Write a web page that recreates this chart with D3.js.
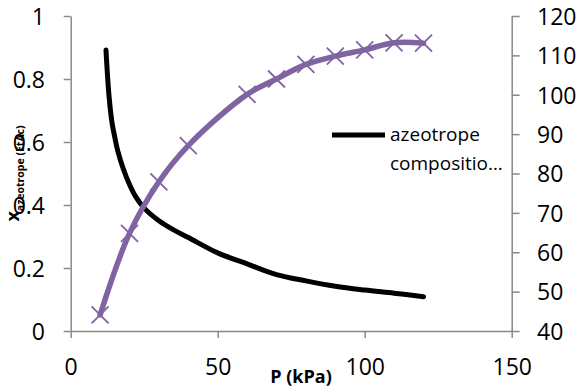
<!DOCTYPE html>
<html>
<head>
<meta charset="utf-8">
<script src="https://cdn.jsdelivr.net/npm/d3@7"></script>
<style>
  html, body { margin: 0; padding: 0; background: #fff; }
  svg { display: block; font-family: "Open Sans", sans-serif; }
</style>
</head>
<body>
<svg id="chart" width="578" height="391"></svg>
<script>
// ---- data ----
const compP = [12, 13, 14, 15, 16, 18, 20, 22, 25, 30, 35, 40, 50, 60, 70, 80, 90, 100, 110, 120];
const compX = [0.892, 0.75, 0.665, 0.615, 0.572, 0.512, 0.465, 0.428, 0.39, 0.35, 0.321, 0.297, 0.248, 0.213, 0.179, 0.159, 0.142, 0.13, 0.12, 0.109];
const tempP = [10, 20, 30, 40, 60, 70, 80, 90, 100, 110, 120];
const tempT = [44.1, 64.8, 77.9, 87.1, 100.1, 104.0, 107.7, 109.8, 111.4, 113.2, 113.1];
const xTicks = [0, 50, 100, 150];
const yLeftTicks = [0, 0.2, 0.4, 0.6, 0.8, 1];
const yRightTicks = [40, 50, 60, 70, 80, 90, 100, 110, 120];
const legendLines = ["azeotrope", "compositio\u2026"];
const xTitle = "P (kPa)";
const yTitleMain = "x";
const yTitleSub = "azeotrope (EtAc)";

// ---- chart ----
const svg = d3.select("#chart");
const L = 70.7, R = 511.7, T = 16, B = 331;
const x = d3.scaleLinear().domain([0, 150]).range([L, R]);
const yL = d3.scaleLinear().domain([0, 1]).range([B, T]);
const yR = d3.scaleLinear().domain([40, 120]).range([B, T]);
const axisColor = "#898989";
const fs = 23;

function styleAxis(g) {
  g.select(".domain").attr("stroke", axisColor).attr("stroke-width", 1.5);
  g.selectAll(".tick line").attr("stroke", axisColor).attr("stroke-width", 1.5);
  g.selectAll(".tick text").attr("fill", "#000").attr("font-size", fs)
    .attr("font-family", "'Open Sans', sans-serif");
}

const gx = svg.append("g").attr("transform", `translate(0,${B})`)
  .call(d3.axisBottom(x).tickValues(xTicks).tickSize(7).tickSizeOuter(0).tickFormat(d3.format("d")));
styleAxis(gx);
gx.selectAll(".tick text").attr("y", 44).attr("dy", 0);

const gl = svg.append("g").attr("transform", `translate(${L},0)`)
  .call(d3.axisLeft(yL).tickValues(yLeftTicks).tickSize(7).tickSizeOuter(0).tickPadding(18.7).tickFormat(d => d3.format("")(d)));
styleAxis(gl);
gl.selectAll(".tick text").attr("dy", "0.36em");

const gr = svg.append("g").attr("transform", `translate(${R},0)`)
  .call(d3.axisRight(yR).tickValues(yRightTicks).tickSize(8).tickSizeOuter(0).tickPadding(17.3).tickFormat(d3.format("d")));
styleAxis(gr);
gr.selectAll(".tick text").attr("dy", "0.36em");

// black azeotrope composition line
const compData = compP.map((p, i) => ({ p, v: compX[i] }));
svg.append("path").datum(compData)
  .attr("fill", "none").attr("stroke", "#000").attr("stroke-width", 5)
  .attr("stroke-linecap", "round").attr("stroke-linejoin", "round")
  .attr("d", d3.line().x(d => x(d.p)).y(d => yL(d.v)).curve(d3.curveCatmullRom.alpha(0.5)));

// purple temperature line
const purple = "#8064A2";
const tempData = tempP.map((p, i) => ({ p, v: tempT[i] }));
svg.append("path").datum(tempData)
  .attr("fill", "none").attr("stroke", purple).attr("stroke-width", 5.5)
  .attr("stroke-linecap", "round").attr("stroke-linejoin", "round")
  .attr("d", d3.line().x(d => x(d.p)).y(d => yR(d.v)).curve(d3.curveCatmullRom.alpha(0.5)));
svg.append("g").selectAll("path").data(tempData).join("path")
  .attr("transform", d => `translate(${x(d.p)},${yR(d.v)})`)
  .attr("d", "M-8.5,-8.5L8.5,8.5M-8.5,8.5L8.5,-8.5")
  .attr("stroke", purple).attr("stroke-width", 1.8).attr("fill", "none");

// legend
const lg = svg.append("g");
lg.append("line").attr("x1", 332).attr("x2", 385).attr("y1", 135).attr("y2", 135)
  .attr("stroke", "#000").attr("stroke-width", 5);
lg.selectAll("text").data(legendLines).join("text")
  .attr("x", 390).attr("y", (d, i) => 141 + i * 28.5)
  .attr("font-size", 19).attr("fill", "#000").text(d => d);

// axis titles
svg.append("text").attr("x", 301).attr("y", 383).attr("text-anchor", "middle")
  .attr("font-size", 18).attr("font-weight", "bold").text(xTitle);

const yt = svg.append("text")
  .attr("transform", `translate(19,${(T + B) / 2}) rotate(-90)`)
  .attr("text-anchor", "middle").attr("font-weight", "bold");
yt.append("tspan").attr("font-size", 18).text(yTitleMain);
yt.append("tspan").attr("font-size", 10.5).attr("dy", 5).text(yTitleSub);
</script>
</body>
</html>
